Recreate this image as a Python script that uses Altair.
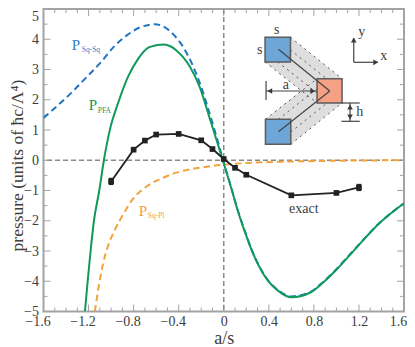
import altair as alt
import pandas as pd

W, H = 360.5, 302.5
GRAY = "#a3a3a3"
TXT = "#3d3d3d"
SERIF = "Liberation Serif"

# curves (a/s, pressure)
sqsq_x = [-1.6,-1.483,-1.356,-1.23,-1.1,-0.966,-0.863,-0.745,-0.656,-0.61,-0.56,-0.45,-0.36,-0.27,-0.2,-0.14,-0.07,0.0,0.068,0.127,0.186,0.245,0.304,0.393,0.481,0.6,0.765,0.88,1.0,1.147,1.39,1.6]
sqsq_y = [1.4,1.78,2.22,2.7,3.2,3.79,4.12,4.39,4.48,4.5,4.46,4.17,3.74,3.09,2.42,1.72,0.85,-0.08,-0.92,-1.68,-2.33,-2.93,-3.42,-3.97,-4.29,-4.5,-4.36,-4.03,-3.6,-3.0,-2.05,-1.42]
pfa_x = [-1.232,-1.208,-1.182,-1.152,-1.105,-1.064,-1.01,-0.937,-0.848,-0.76,-0.67,-0.59,-0.53,-0.47,-0.42,-0.3,-0.213,-0.124,-0.06,0.0,0.068,0.127,0.186,0.245,0.304,0.393,0.481,0.6,0.765,0.88,1.0,1.147,1.39,1.6]
pfa_y = [-5,-4,-3,-2,-1,0,1.02,1.9,2.77,3.35,3.72,3.81,3.83,3.76,3.63,3.09,2.42,1.38,0.62,-0.1,-0.94,-1.7,-2.35,-2.95,-3.44,-3.99,-4.31,-4.53,-4.38,-4.05,-3.62,-3.02,-2.05,-1.42]
sqpl_x = [-1.144,-1.114,-1.07,-1.03,-0.966,-0.89,-0.806,-0.685,-0.54,-0.42,-0.124,0.17,0.76,1.6]
sqpl_y = [-5,-4.27,-3.4,-2.86,-2.3,-1.77,-1.28,-0.87,-0.58,-0.41,-0.2,-0.1,-0.03,0]
exact_x = [-1.0,-0.8,-0.7,-0.6,-0.4,-0.2,-0.1,0.0,0.1,0.2,0.6,1.0,1.2]
exact_y = [-0.7,0.35,0.65,0.85,0.87,0.66,0.37,0.04,-0.25,-0.48,-1.16,-1.08,-0.9]
err_x = [-1.0,1.2]
err_lo = [-0.82,-1.02]
err_hi = [-0.58,-0.78]

x_major = [-1.6,-1.2,-0.8,-0.4,0,0.4,0.8,1.2,1.6]
x_minor = [-1.5,-1.4,-1.3,-1.1,-1.0,-0.9,-0.7,-0.6,-0.5,-0.3,-0.2,-0.1,0.1,0.2,0.3,0.5,0.6,0.7,0.9,1.0,1.1,1.3,1.4,1.5]
y_major = [-5,-4,-3,-2,-1,0,1,2,3,4,5]
y_minor = [-4.5,-3.5,-2.5,-1.5,-0.5,0.5,1.5,2.5,3.5,4.5]

# inset diagram, read in picture pixels
def dx(p): return (p - 224.0) / (W / 3.2)
def dy(p): return (160.25 - p) / (H / 10)

squares = [(265.3,290.7,37.3,62,"#6ea6d8"),(317.3,342.3,78.7,103,"#f5a185"),(265.7,291,119.3,144.3,"#6ea6d8")]
band_top = [(265.3,62,62),(290.7,37.3,82),(317.3,58.8,103),(342.3,78.7,78.7)]
band_bot = [(265.7,119.3,119.3),(291,99,144.3),(317.3,78.7,123),(342.3,103,103)]
dotted = [((290.7,37.3),(342.3,78.7)),((290.7,50),(342.3,91)),((265.3,62),(317.3,103)),((278,62),(330,103)),
          ((291,144.3),(342.3,103)),((291,132),(342.3,91)),((265.7,119.3),(317.3,78.7)),((278.5,119.3),(330,78.7))]
solid = [((278.7,49.3),(330,91)),((278.7,131.7),(330,91)),
         ((266.3,81),(266.3,100)),((266.3,91),(317,91)),
         ((342,103),(360,103)),((341.7,121.3),(360,121.3)),((350.3,103),(350.3,121.3)),
         ((354,62.3),(354,38)),((354,62.3),(378,62.3))]
arrows = [(270,91,"triangle-left"),(313,91,"triangle-right"),(350.3,107,"triangle-up"),(350.3,117,"triangle-down"),
          (354,40,"triangle-up"),(376,62.3,"triangle-right")]
inset_text = [(277,30,"s"),(260,50,"s"),(286,85,"a"),(360,112,"h"),(362,32,"y"),(384,56,"x")]

labels = [(72,45,"P","#2f7fc8",15,"left"),(89,105,"P","#0f9a5c",15,"left"),(139,211,"P","#f0a040",15,"left"),(304,209,"exact",TXT,14,"center")]
subs = [(82,50,"Sq-Sq","#2f7fc8"),(98,111,"PFA","#0f9a5c"),(148,216,"Sq-Pl","#f0a040")]

xs = alt.Scale(domain=[-1.6,1.6], nice=False, zero=False)
ys = alt.Scale(domain=[-5,5], nice=False, zero=False)
x_axis = alt.Axis(
        values=x_major, format=".1~f", tickSize=0, domain=False, grid=False, labelFlush=False,
        labelFont=SERIF, labelFontSize=14, labelColor=TXT, labelPadding=3,
        labelOffset={"condition":{"test":"datum.value<0 || datum.value==1.6","value":-6},"value":0},
        titleFont=SERIF, titleFontSize=18, titleFontWeight="normal", titleColor=TXT, titlePadding=1)
y_axis = alt.Axis(
        values=y_major, format="d", tickSize=0, domain=False, grid=False, labelFlush=False,
        labelFont=SERIF, labelFontSize=14, labelColor=TXT, labelPadding=5,
        labelBaseline={"condition":{"test":"datum.value==5","value":"top"},"value":"middle"},
        titleFont=SERIF, titleFontSize=17.5, titleFontWeight="normal", titleColor=TXT, titleX=-17.5, titleY=156)
X = lambda f="x": alt.X(f"{f}:Q", scale=xs, axis=x_axis, title="a/s")
Y = lambda f="y": alt.Y(f"{f}:Q", scale=ys, axis=y_axis, title="pressure (units of ħc/Λ⁴)")

def curve(xv, yv, color, dash=None, width=2):
    kw = {"strokeDash": dash} if dash else {}
    return alt.Chart(pd.DataFrame({"x":xv,"y":yv})).mark_line(color=color, strokeWidth=width, interpolate="monotone", clip=True, **kw).encode(x=X(), y=Y())

def xticks(vals, n):
    d = pd.DataFrame({"x":vals})
    c = alt.Chart(d).mark_rule(color=GRAY, strokeWidth=1)
    return c.encode(x=X(), y=alt.value(H), y2=alt.value(H-n)) + c.encode(x=X(), y=alt.value(0), y2=alt.value(n))

def yticks(vals, n):
    d = pd.DataFrame({"y":vals})
    c = alt.Chart(d).mark_rule(color=GRAY, strokeWidth=1)
    return c.encode(y=Y(), x=alt.value(0), x2=alt.value(n)) + c.encode(y=Y(), x=alt.value(W), x2=alt.value(W-n))

zero_h = alt.Chart(pd.DataFrame({"y":[0]})).mark_rule(color="#8a8a8a", strokeWidth=1.5, strokeDash=[5,3]).encode(y=Y())
zero_v = alt.Chart(pd.DataFrame({"x":[0]})).mark_rule(color="#8a8a8a", strokeWidth=1.5, strokeDash=[5,3]).encode(x=X())

def band(rows):
    d = pd.DataFrame({"x":[dx(r[0]) for r in rows],"y":[dy(r[1]) for r in rows],"y2":[dy(r[2]) for r in rows]})
    return alt.Chart(d).mark_area(color="#dedede", interpolate="linear").encode(x=X(), y=Y(), y2="y2:Q")

def segs(items, **kw):
    rows = []
    for i,(a,b) in enumerate(items):
        rows += [{"g":i,"x":dx(a[0]),"y":dy(a[1])},{"g":i,"x":dx(b[0]),"y":dy(b[1])}]
    return alt.Chart(pd.DataFrame(rows)).mark_line(**kw).encode(x=X(), y=Y(), detail="g:N")

sq_df = pd.DataFrame([{"x":dx(a),"x2":dx(b),"y":dy(c),"y2":dy(d),"c":col} for a,b,c,d,col in squares])
sq = alt.Chart(sq_df).mark_rect(stroke="#5c5c5c", strokeWidth=1.5).encode(
    x=X(), x2="x2:Q", y=Y(), y2="y2:Q", color=alt.Color("c:N", scale=None))

arrow_layers = [alt.Chart(pd.DataFrame({"x":[dx(a)],"y":[dy(b)]})).mark_point(shape=s, filled=True, color="#3a3a3a", size=32, opacity=1).encode(x=X(), y=Y()) for a,b,s in arrows]

def text_rows(rows, size, color=None, align="center"):
    out = []
    for r in rows:
        out.append(alt.Chart(pd.DataFrame({"x":[dx(r[0])],"y":[dy(r[1])],"t":[r[2]]})).mark_text(
            font=SERIF, fontSize=r[4] if len(r)>4 else size, color=(r[3] if len(r)>3 else color), align=(r[5] if len(r)>5 else align), baseline="middle").encode(
            x=X(), y=Y(), text="t:N"))
    return out

ex_df = pd.DataFrame({"x":exact_x,"y":exact_y})
ex_line = alt.Chart(ex_df).mark_line(color="#222222", strokeWidth=1.8).encode(x=X(), y=Y())
ex_pts = alt.Chart(ex_df).mark_square(color="#222222", size=32, opacity=1).encode(x=X(), y=Y())
ex_err = alt.Chart(pd.DataFrame({"x":err_x,"lo":err_lo,"hi":err_hi})).mark_rule(color="#222222", strokeWidth=4.5).encode(x=X(), y=Y("lo"), y2="hi:Q")

layers = [xticks(x_major,7), xticks(x_minor,4), yticks(y_major,7), yticks(y_minor,4),
          band(band_top), band(band_bot),
          segs(dotted, color="#555555", strokeWidth=1, strokeDash=[2,4]),
          zero_h, zero_v,
          curve(sqsq_x,sqsq_y,"#1f74c4",[6.5,4]), curve(sqpl_x,sqpl_y,"#f2a33c",[6.5,4]), curve(pfa_x,pfa_y,"#0f9a5c"),
          ex_err, ex_line, ex_pts,
          sq, segs(solid, color="#444444", strokeWidth=1.2)] + arrow_layers + \
         text_rows(inset_text,14,TXT) + text_rows(labels,15) + \
         [t for r in subs for t in text_rows([(r[0],r[1],r[2],r[3],7.5,"left")],8)]

chart = alt.layer(*layers).properties(
    width=W, height=H,
    padding={"left":35.5,"top":1,"right":3,"bottom":35},
    autosize=alt.AutoSizeParams(type="none"),
    background="white",
).configure_view(stroke=GRAY, strokeWidth=2)

chart.save("out.html", embed_options={"renderer": "svg", "actions": False})
